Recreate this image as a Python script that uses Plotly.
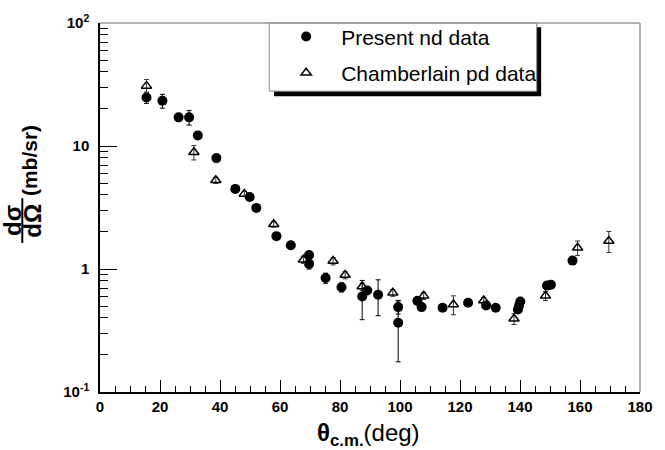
import plotly.graph_objects as go

# Present nd data (filled circles)
nd_theta = [15.5, 20.8, 26.2, 29.7, 32.6, 38.8, 45.1, 49.9, 52.1, 58.8, 63.6, 69.7, 69.7,
            75.2, 80.5, 87.4, 89.1, 92.7, 99.4, 99.4, 105.8, 107.2, 114.2, 122.7, 128.7,
            131.9, 139.3, 139.7, 140.1, 149.0, 150.3, 157.5]
nd_xs = [24.8, 23.3, 17.1, 17.1, 12.2, 7.97, 4.48, 3.85, 3.14, 1.85, 1.56, 1.30, 1.10,
         0.845, 0.71, 0.597, 0.668, 0.617, 0.49, 0.366, 0.551, 0.49, 0.484, 0.531, 0.506,
         0.484, 0.469, 0.505, 0.544, 0.733, 0.746, 1.17]
nd_err = [2.6, 3.0, 1.0, 2.3, 0.8, 0.5, 0.3, 0.2, 0.15, 0.1, 0.1, 0.08, 0.1,
          0.08, 0.06, 0.21, 0.03, 0.2, 0.06, 0.19, 0.03, 0.03, 0.03, 0.03, 0.03,
          0.03, 0.03, 0.03, 0.03, 0.04, 0.04, 0.06]

# Chamberlain pd data (open triangles)
pd_theta = [15.5, 31.3, 38.6, 48.1, 57.9, 67.8, 77.7, 81.7, 87.4, 97.6, 107.9, 117.8,
            127.9, 138.0, 148.5, 159.2, 169.6]
pd_xs = [30.8, 8.9, 5.26, 4.08, 2.31, 1.19, 1.16, 0.893, 0.72, 0.64, 0.605, 0.515,
         0.555, 0.394, 0.605, 1.49, 1.69]
pd_err = [3.9, 1.2, 0.3, 0.2, 0.12, 0.08, 0.08, 0.06, 0.05, 0.04, 0.04, 0.09,
          0.03, 0.04, 0.05, 0.2, 0.33]

x_ticks = [0, 20, 40, 60, 80, 100, 120, 140, 160, 180]
y_tickvals = [0.1, 1, 10, 100]
y_ticktext = ["<b>10<sup>-1</sup></b>", "<b>1</b>", "<b>10</b>", "<b>10<sup>2</sup></b>"]
y_minor = [m * d for d in (0.1, 1, 10) for m in range(2, 10)]

W, H = 665, 450
L, R, T, B = 100, 649, 20.7, 392.0
def px(x):
    return (x - L) / (R - L)
def py(y):
    return (B - y) / (B - T)

FONT = "Liberation Sans, Arial, Helvetica, sans-serif"

fig = go.Figure()
fig.add_trace(go.Scatter(
    x=nd_theta, y=nd_xs, mode="markers", name="Present nd data",
    legendgroup="a",
    marker=dict(symbol="circle", size=10, color="black"),
    error_y=dict(type="data", array=nd_err, color="black", thickness=1, width=2.5),
))
fig.add_trace(go.Scatter(
    x=pd_theta, y=pd_xs, mode="markers", name="Chamberlain pd data",
    legendgroup="b",
    marker=dict(symbol="triangle-up-open", size=9, color="black", line=dict(width=1.5, color="black")),
    error_y=dict(type="data", array=pd_err, color="#333333", thickness=1, width=2.5),
))

shapes = [
    # legend shadow and box
    dict(type="rect", xref="paper", yref="paper", x0=px(277), x1=px(548.5), y0=py(94.5), y1=py(25),
         fillcolor="black", line=dict(width=0), layer="above"),
    dict(type="rect", xref="paper", yref="paper", x0=px(272), x1=px(544), y0=py(89.3), y1=py(20.7),
         fillcolor="white", line=dict(width=1, color="#888888"), layer="above"),
    # top and right frame lines
    dict(type="line", xref="paper", yref="paper", x0=0, x1=1, y0=1, y1=1,
         line=dict(width=1.5, color="#999999")),
    dict(type="line", xref="paper", yref="paper", x0=1, x1=1, y0=0, y1=1,
         line=dict(width=1.5, color="#999999")),
    # fraction bar of the y title
    dict(type="line", xref="paper", yref="paper", x0=px(21), x1=px(21), y0=py(242), y1=py(197),
         line=dict(width=2, color="black")),
]

annotations = [
    dict(text="<b>θ<sub>c.m.</sub></b>(deg)", xref="paper", yref="paper", x=px(373), y=py(435),
         showarrow=False, xanchor="center", yanchor="middle", font=dict(size=24, family=FONT, color="black")),
    dict(text="<b>(mb/sr)</b>", xref="paper", yref="paper", x=px(28.5), y=py(159), textangle=-90,
         showarrow=False, xanchor="center", yanchor="middle", font=dict(size=21, family=FONT, color="black")),
    dict(text="<b>dσ</b>", xref="paper", yref="paper", x=px(11), y=py(219.5), textangle=-90,
         showarrow=False, xanchor="center", yanchor="middle", font=dict(size=24, family=FONT, color="black")),
    dict(text="<b>dΩ</b>", xref="paper", yref="paper", x=px(31), y=py(219.5), textangle=-90,
         showarrow=False, xanchor="center", yanchor="middle", font=dict(size=24, family=FONT, color="black")),
]

fig.update_layout(
    width=W, height=H,
    margin=dict(l=L, r=W - R, t=T, b=H - B, pad=0),
    paper_bgcolor="white", plot_bgcolor="white",
    font=dict(family=FONT, color="black"),
    showlegend=True,
    legend=dict(
        x=px(274), y=py(14), xanchor="left", yanchor="top",
        bgcolor="rgba(0,0,0,0)", borderwidth=0,
        font=dict(size=21, family=FONT, color="black"),
        traceorder="grouped", tracegroupgap=6, itemwidth=60,
    ),
    shapes=shapes,
    annotations=annotations,
    xaxis=dict(
        range=[0, 180], tickvals=x_ticks, ticktext=[f"<b>{v}</b>" for v in x_ticks],
        ticks="inside", ticklen=12, tickwidth=1, tickcolor="black",
        showline=True, linecolor="black", linewidth=1.5, mirror=False,
        showgrid=False, zeroline=False,
        tickfont=dict(size=15, family=FONT, color="black"),
        minor=dict(dtick=5, ticks="inside", ticklen=6, tickcolor="black", tickwidth=1, showgrid=False),
    ),
    yaxis=dict(
        type="log", range=[-1, 2], tickvals=y_tickvals, ticktext=y_ticktext,
        ticks="inside", ticklen=17, tickwidth=1, tickcolor="black",
        showline=True, linecolor="black", linewidth=1.5, mirror=False,
        showgrid=False, zeroline=False,
        tickfont=dict(size=15, family=FONT, color="black"),
        ticklabelstandoff=6,
        minor=dict(tickvals=y_minor, ticks="inside", ticklen=8, tickcolor="black", tickwidth=1, showgrid=False),
    ),
)

fig.write_html("out.html")
